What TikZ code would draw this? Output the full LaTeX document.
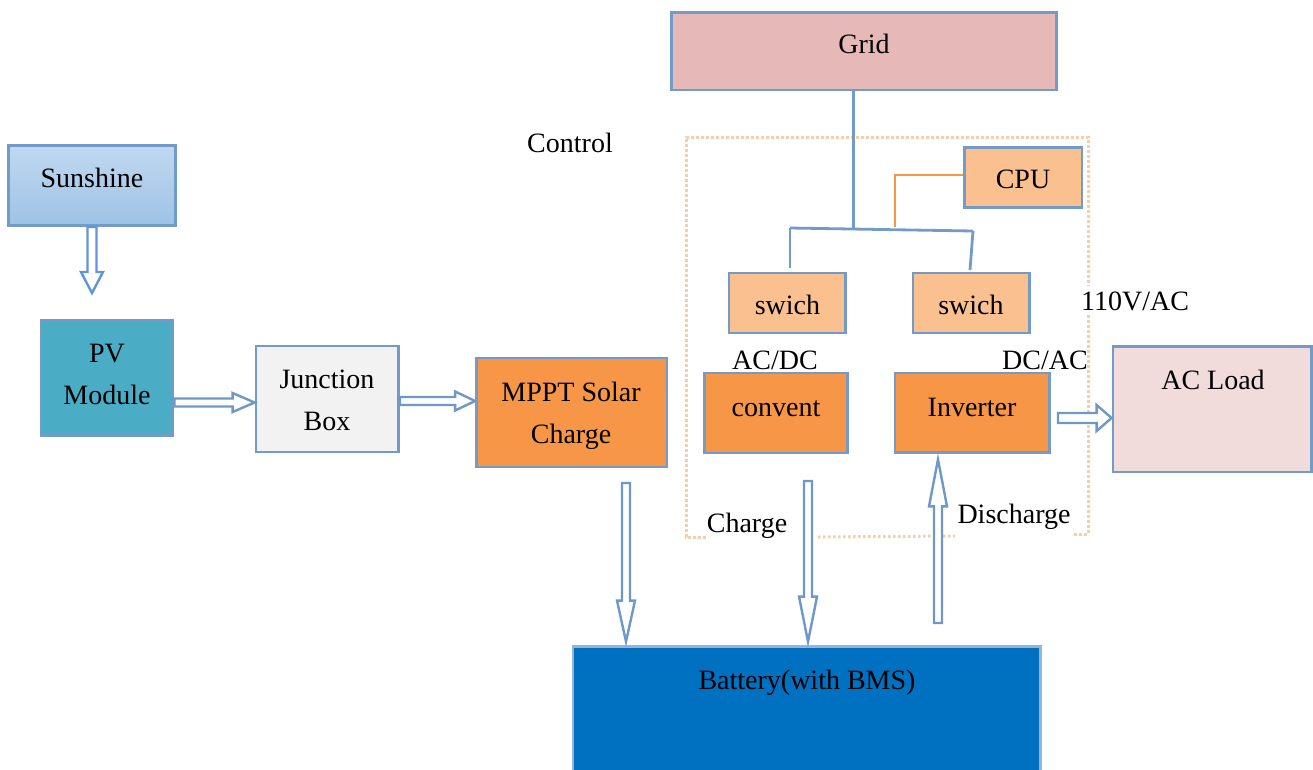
\documentclass[tikz,border=0pt]{standalone}
\usepackage{fontspec}
\setmainfont{Liberation Serif}
\usetikzlibrary{calc}
\definecolor{edgec}{RGB}{115,155,200}
\definecolor{batedge}{RGB}{150,180,215}
\definecolor{arrc}{RGB}{110,152,200}
\definecolor{arrsun}{RGB}{95,150,215}
\definecolor{sunT}{RGB}{192,216,240}
\definecolor{sunB}{RGB}{158,195,230}
\definecolor{pvc}{RGB}{75,172,198}
\definecolor{jbc}{RGB}{242,242,242}
\definecolor{orc}{RGB}{247,150,70}
\definecolor{ltor}{RGB}{250,192,144}
\definecolor{gridc}{RGB}{230,184,183}
\definecolor{aclc}{RGB}{242,220,219}
\definecolor{batc}{RGB}{0,112,192}
\definecolor{dotc}{RGB}{250,205,168}
\definecolor{cpul}{RGB}{247,150,70}
\tikzset{
  hl/.store in=\hl, hw/.store in=\hw, sw/.store in=\sw, hl=22, hw=10, sw=4.5,
  box/.style={draw=edgec, line width=2.8pt, inner sep=0pt},
  txt/.style={anchor=base, inner sep=0pt, align=center, font=\fontsize{28}{42}\selectfont},
  wire/.style={draw=edgec, line width=2.8pt},
  ctrl/.style={draw=dotc, line width=3pt, dash pattern=on 2.6pt off 2.4pt},
  hollow/.style={draw=arrc, line width=2.4pt, fill=white, line join=miter,
    to path={let \p1=($(\tikztotarget)-(\tikztostart)$), \n1={atan2(\y1,\x1)}, \n2={veclen(\x1,\y1)-\hl} in
      ($(\tikztostart)+({\n1+90}:{\sw pt})$)
      -- ($(\tikztostart)+({\n1}:{\n2})+({\n1+90}:{\sw pt})$)
      -- ($(\tikztostart)+({\n1}:{\n2})+({\n1+90}:{\hw pt})$)
      -- (\tikztotarget)
      -- ($(\tikztostart)+({\n1}:{\n2})+({\n1-90}:{\hw pt})$)
      -- ($(\tikztostart)+({\n1}:{\n2})+({\n1-90}:{\sw pt})$)
      -- ($(\tikztostart)+({\n1-90}:{\sw pt})$) -- cycle}}
}
\begin{document}
\begin{tikzpicture}[x=1pt,y=-1pt]
\useasboundingbox (0,0) rectangle (1313,769);

% control region (dotted)
\draw[ctrl] (706,537) -- (686,537) -- (686,137) -- (1088,137) -- (1088,534) -- (1073,534);
\draw[ctrl] (818,537) -- (955,536);

% boxes
\node[box, top color=sunT, bottom color=sunB, minimum width=167, minimum height=80] (sun) at (92,185.5) {};
\node[box, fill=pvc, minimum width=132, minimum height=115.5] (pv) at (107,377.75) {};
\node[box, fill=jbc, minimum width=142.5, minimum height=106] (jb) at (327.25,399) {};
\node[box, fill=orc, minimum width=190.5, minimum height=109] (mppt) at (571.75,412.5) {};
\node[box, fill=gridc, minimum width=385, minimum height=77.5] (grid) at (864,51.25) {};
\node[box, fill=ltor, minimum width=117.5, minimum height=60] (cpu) at (1023.25,177.5) {};
\node[box, fill=ltor, minimum width=116.5, minimum height=60] (swl) at (787.25,303) {};
\node[box, fill=ltor, minimum width=116.5, minimum height=60] (swr) at (971.25,303) {};
\node[box, fill=orc, minimum width=143, minimum height=80] (conv) at (776,413) {};
\node[box, fill=orc, minimum width=154.5, minimum height=79.5] (inv) at (972.25,412.75) {};
\node[box, fill=aclc, minimum width=198.5, minimum height=125.5] (acl) at (1212.25,409.25) {};
\node[box, draw=batedge, fill=batc, minimum width=467.5, minimum height=153.5] (bat) at (806.75,723.25) {};

% texts (base anchor = baseline of the last line)
\node[txt] (sunT) at (92,187) {Sunshine};
\node[txt] (pvT) at (107,404) {PV\\Module};
\node[txt] (jbT) at (327,430) {Junction\\Box};
\node[txt] (mpptT) at (571,443) {MPPT Solar\\Charge};
\node[txt] (gridT) at (864,53) {Grid};
\node[txt] (ctrlT) at (570,152) {Control};
\node[txt] (cpuT) at (1023,188) {CPU};
\node[txt] (swlT) at (787.5,314) {swich};
\node[txt] (swrT) at (971,314) {swich};
\node[txt] (acdc) at (775,369) {AC/DC};
\node[txt] (dcac) at (1045,369) {DC/AC};
\node[txt] (convT) at (776,416) {convent};
\node[txt] (invT) at (972,416) {Inverter};
\fill[white] (1084,286) rectangle (1092,314);
\node[txt] (v110) at (1135,310) {110V/AC};
\node[txt] (aclT) at (1213,389) {AC Load};
\node[txt] (chg) at (747,532) {Charge};
\node[txt] (dchg) at (1014,523) {Discharge};
\node[txt] (batT) at (807,689) {Battery(with BMS)};

% grid wiring
\coordinate (j0) at (853.5,228);
\coordinate (jl) at (790,228);
\coordinate (jr) at (973,231);
\coordinate (swlTop) at (790,268);
\coordinate (swrTop) at (970,270);
\draw[wire] (grid.south -| j0) -- (j0);
\draw[wire] (jl) -- (jr);
\draw[wire] (jl) -- (swlTop);
\draw[wire] (jr) -- (swrTop);
\coordinate (cpuJ) at (895,227);
\draw[draw=cpul, line width=2.4pt] ([yshift=2.5pt]cpu.west) -| (cpuJ);

% hollow arrows
\coordinate (sunTip) at (92,293);
\draw[hollow, draw=arrsun, hl=21, hw=11, sw=4.5] (sun.south) to (sunTip);
\draw[hollow, hl=22, hw=9.5, sw=4] (pv.east |- 0,402.5) to (jb.west |- 0,402.5);
\draw[hollow, hl=20, hw=9.5, sw=4] (jb.east |- 0,401) to (mppt.west |- 0,401);
\coordinate (m1) at (626,483);
\draw[hollow, hl=41, hw=9, sw=4] (m1) to ($(bat.north -| m1)+(0,-3.5)$);
\coordinate (c1) at (808,481);
\draw[hollow, hl=45, hw=9, sw=4] (c1) to ($(bat.north -| c1)+(0,-3.5)$);
\coordinate (d1) at (938,623);
\draw[hollow, hl=47, hw=9, sw=4] (d1) to ($(inv.south -| d1)+(0,5.5)$);
\coordinate (i1) at (1058,418);
\draw[hollow, hl=15, hw=13, sw=5] (i1) to (acl.west |- i1);
\end{tikzpicture}
\end{document}
